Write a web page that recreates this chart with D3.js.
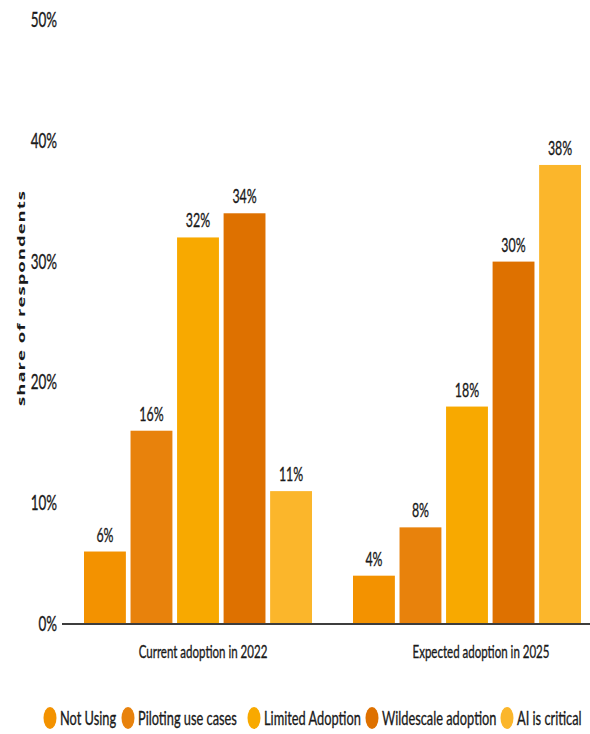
<!DOCTYPE html>
<html>
<head>
<meta charset="utf-8">
<script src="https://cdn.jsdelivr.net/npm/d3@7"></script>
<style>
  body { margin: 0; background: #fff; }
  text { font-family: Lato, "Open Sans", sans-serif; fill: #1a1a1a; }
</style>
</head>
<body>
<div id="chart"></div>
<script>
// data
var groups = ["Current adoption in 2022", "Expected adoption in 2025"];
var series = ["Not Using", "Piloting use cases", "Limited Adoption", "Wildescale adoption", "AI is critical"];
var values2022 = [6, 16, 32, 34, 11];
var values2025 = [4, 8, 18, 30, 38];
var yTicks = [0, 10, 20, 30, 40, 50];

var colors = ["#F39200", "#E8820C", "#F8A900", "#DE7100", "#FBB62B"];

var width = 590, height = 734;

var table = groups.map(function (g, i) {
  var vals = i === 0 ? values2022 : values2025;
  return { group: g, items: series.map(function (s, j) { return { key: s, value: vals[j], idx: j }; }) };
});

var svg = d3.select("#chart")
  .append("svg")
  .attr("width", width)
  .attr("height", height);

var y = d3.scaleLinear()
  .domain([0, 50])
  .range([624, 20]);

var x0 = d3.scaleBand()
  .domain(groups)
  .range([84, 581])
  .paddingInner(0.1524)
  .paddingOuter(0);

var x1 = d3.scaleBand()
  .domain(series)
  .range([0, x0.bandwidth()])
  .paddingInner(0.1);

// squashed text helper (the picture is squeezed sideways)
function sText(parent, x, yy, str, size, anchor, weight, sq) {
  var t = parent.append("text")
    .attr("transform", "translate(" + x + "," + yy + ") scale(" + (sq || 0.64) + ",1)")
    .attr("text-anchor", anchor)
    .style("font-size", size + "px")
    .style("font-weight", weight || 400)
    .text(str);
  if (!weight || weight < 600) {
    t.style("stroke", "#1a1a1a").style("stroke-width", 0.35);
  }
  return t;
}

// y tick labels
yTicks.forEach(function (t) {
  sText(svg, 57, y(t) + 7, t + "%", 21, "end");
});

// y label
svg.append("text")
  .attr("transform", "translate(25,298) scale(0.6,1) rotate(-90)")
  .attr("text-anchor", "middle")
  .style("font-size", "18.5px")
  .style("font-weight", 700)
  .style("letter-spacing", "1px")
  .style("font-family", "'Open Sans', sans-serif")
  .text("share of respondents");

// bars
var g = svg.selectAll(".grp")
  .data(table)
  .enter()
  .append("g")
  .attr("class", "grp")
  .attr("transform", function (d) { return "translate(" + x0(d.group) + ",0)"; });

g.selectAll("rect")
  .data(function (d) { return d.items; })
  .enter()
  .append("rect")
  .attr("x", function (d) { return x1(d.key); })
  .attr("y", function (d) { return y(d.value); })
  .attr("width", x1.bandwidth())
  .attr("height", function (d) { return y(0) - y(d.value); })
  .style("fill", function (d) { return colors[d.idx]; });

g.each(function (d) {
  var grp = d3.select(this);
  d.items.forEach(function (it) {
    sText(grp, x1(it.key) + x1.bandwidth() / 2, y(it.value) - 10, it.value + "%", 20, "middle", 400, 0.62);
  });
});

// baseline
svg.append("line")
  .attr("x1", 62)
  .attr("x2", 590)
  .attr("y1", y(0))
  .attr("y2", y(0))
  .style("stroke", "#3d3d3d")
  .style("stroke-width", 2);

// group labels
groups.forEach(function (gr, i) {
  sText(svg, x0(gr) + x0.bandwidth() / 2 + (i === 0 ? 5 : 14), 658, gr, 18, "middle");
});

// legend
var legendX = [50, 128, 254, 372, 507];
series.forEach(function (s, i) {
  svg.append("ellipse")
    .attr("cx", legendX[i])
    .attr("cy", 718)
    .attr("rx", 6.5)
    .attr("ry", 11)
    .style("fill", colors[i]);
  sText(svg, legendX[i] + 10, 725, s, 20, "start");
});
</script>
</body>
</html>
